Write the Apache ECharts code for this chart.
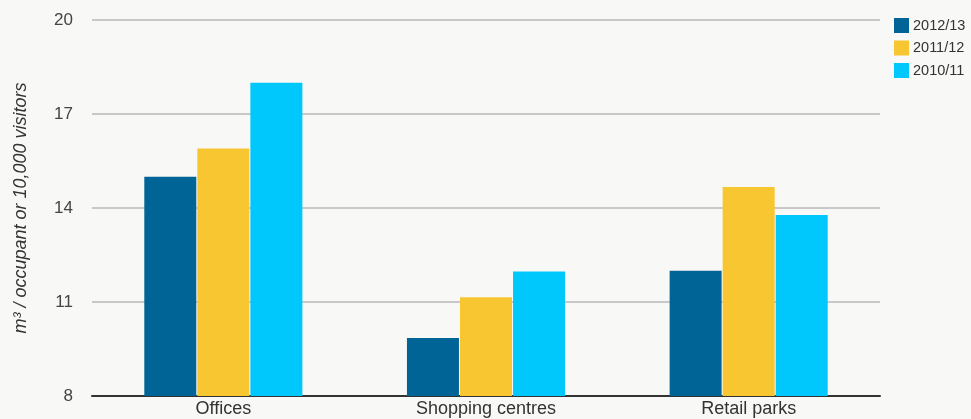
<!DOCTYPE html>
<html><head><meta charset="utf-8">
<script src="https://cdn.jsdelivr.net/npm/echarts@6/dist/echarts.min.js"></script>
<style>html,body{margin:0;padding:0;background:#f8f8f6;}#c{width:971px;height:419px;}</style>
</head><body><div id="c"></div>
<script>
const categories = ['Offices', 'Shopping centres', 'Retail parks'];
const seriesNames = ['2012/13', '2011/12', '2010/11'];
const values2012 = [15.0, 9.85, 12.0];
const values2011 = [15.9, 11.15, 14.67];
const values2010 = [18.0, 11.97, 13.78];
const colors = ['#006596', '#f8c630', '#00c8fc'];
const chart = echarts.init(document.getElementById('c'));
const data = [values2012, values2011, values2010];
chart.setOption({
  backgroundColor: '#f8f8f6',
  animation: false,
  textStyle: { fontFamily: 'Liberation Sans, Arial, sans-serif' },
  grid: { left: 92, right: 91, top: 20, bottom: 23, containLabel: false },
  legend: {
    orient: 'vertical', left: 894, top: 18, padding: 0,
    itemWidth: 15, itemHeight: 15, itemGap: 7.5,
    icon: 'rect',
    textStyle: { fontSize: 14.5, color: '#333', padding: [0, 0, 0, -1] },
    data: seriesNames
  },
  xAxis: {
    type: 'category', data: categories,
    axisLine: { lineStyle: { color: '#333', width: 2 } },
    axisTick: { show: false },
    axisLabel: { fontSize: 18, color: '#333', margin: 4 }
  },
  yAxis: {
    type: 'value', min: 8, max: 20, interval: 3,
    name: 'm³ / occupant or 10,000 visitors',
    nameLocation: 'middle', nameGap: 62,
    nameTextStyle: { fontSize: 18, fontStyle: 'italic', color: '#333' },
    axisLine: { show: false }, axisTick: { show: false },
    axisLabel: { fontSize: 17, color: '#444', margin: 19 },
    splitLine: { lineStyle: { color: '#c8c8c8', width: 2 } }
  },
  series: seriesNames.map((n, i) => ({
    name: n, type: 'bar', data: data[i],
    itemStyle: { color: colors[i] },
    barWidth: 52, barGap: '2%'
  }))
});
</script></body></html>
